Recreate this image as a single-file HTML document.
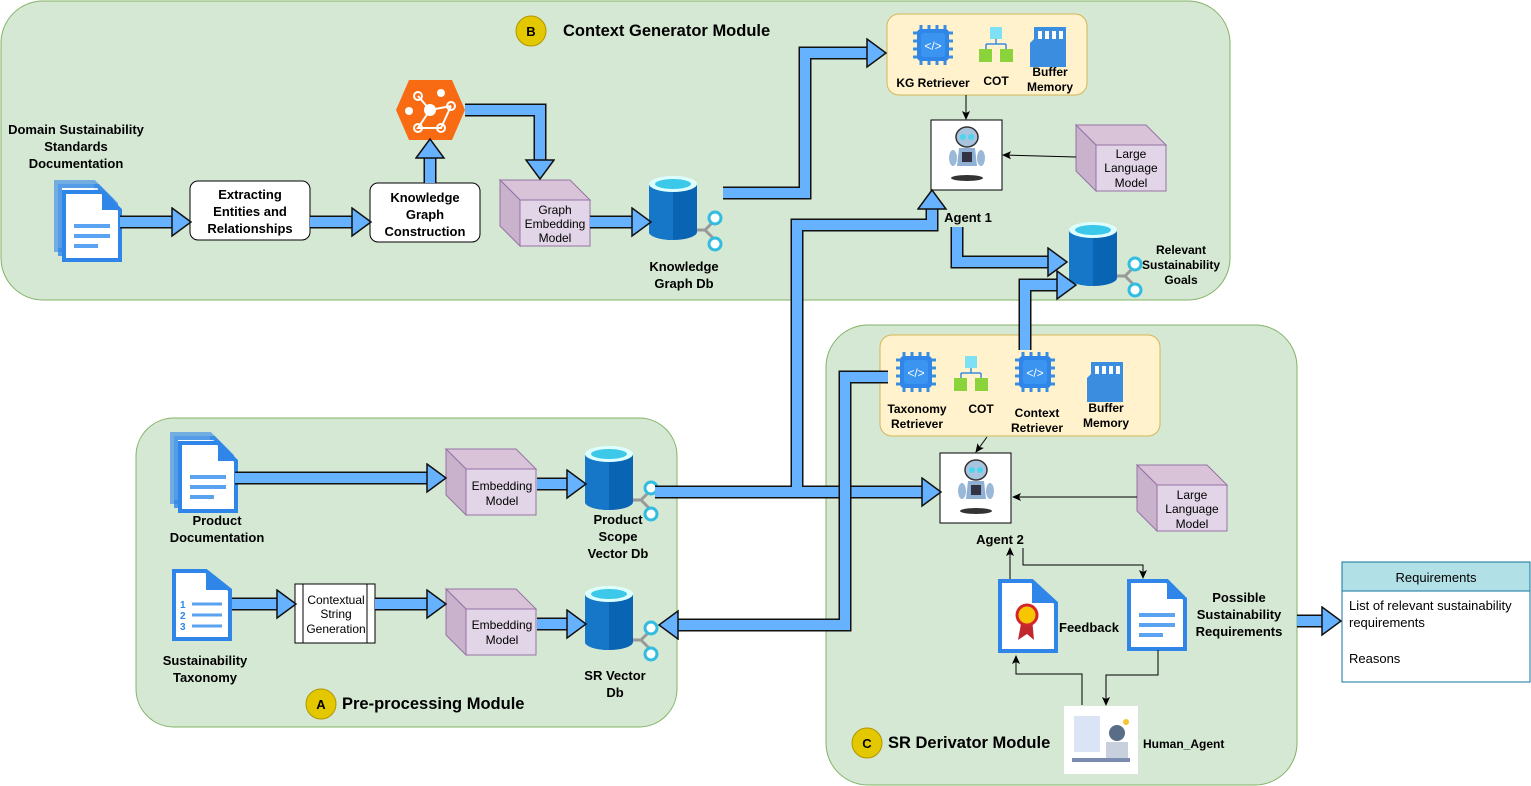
<!DOCTYPE html>
<html><head><meta charset="utf-8"><style>
body{margin:0;background:#fff}
svg{display:block;font-family:"Liberation Sans",Arial,sans-serif}
.o{fill:none;stroke:#111;stroke-width:13;stroke-linejoin:miter}
.i{fill:none;stroke:#66b2ff;stroke-width:10;stroke-linejoin:miter}
.t{fill:none;stroke:#000;stroke-width:1}
.b{font-weight:bold;font-size:13px}
</style></head><body>
<svg width="1531" height="786" viewBox="0 0 1531 786" xmlns="http://www.w3.org/2000/svg">
<defs>
<marker id="ah" markerUnits="userSpaceOnUse" markerWidth="24" markerHeight="32" refX="1" refY="15" orient="auto">
<path d="M1,1 L20,15 L1,29 Z" fill="#66b2ff" stroke="#111" stroke-width="1.5"/></marker>
<marker id="th" markerUnits="userSpaceOnUse" markerWidth="10" markerHeight="10" refX="8" refY="5" orient="auto">
<path d="M0,1 L9,5 L0,9 L2,5 Z" fill="#000"/></marker>
<symbol id="cube" overflow="visible">
<polygon points="0,0 70,0 90,20 20,20" fill="#d8c3d8" stroke="#9673a6"/>
<polygon points="0,0 20,20 20,66 0,46" fill="#c9b2cb" stroke="#9673a6"/>
<rect x="20" y="20" width="70" height="46" fill="#e1d5e7" stroke="#9673a6"/>
</symbol>
<symbol id="db" overflow="visible">
<path d="M32,22 L42,12 M32,22 L42,32 M32,22 L22,22" stroke="#999" stroke-width="3" fill="none"/>
<path d="M-24,-24 V24 A24,8 0 0 0 24,24 V-24 Z" fill="#0a64b4"/>
<path d="M-24,-24 V24 A24,8 0 0 0 0,32 V-16 Z" fill="#1677c9"/>
<ellipse cx="0" cy="-24" rx="24" ry="8" fill="#dff"/>
<ellipse cx="0" cy="-24" rx="18" ry="5" fill="#3cc8e8"/>
<circle cx="42" cy="10" r="6" fill="#fff" stroke="#32bde0" stroke-width="3"/>
<circle cx="42" cy="36" r="6" fill="#fff" stroke="#32bde0" stroke-width="3"/>
</symbol>
<symbol id="doc" overflow="visible">
<path d="M0,0 H38 L56,18 V68 H0 Z" fill="#fff" stroke="#2f86e8" stroke-width="4"/>
<path d="M38,0 V18 H56 Z" fill="#2f86e8"/>
<path d="M10,34 H46 M10,44 H46 M10,54 H34" stroke="#5aa3f0" stroke-width="4"/>
</symbol>
<symbol id="chip" overflow="visible">
<g stroke="#3b8de0" stroke-width="3">
<path d="M-20,-12 H20 M-20,-4 H20 M-20,4 H20 M-20,12 H20 M-12,-20 V20 M-4,-20 V20 M4,-20 V20 M12,-20 V20"/></g>
<rect x="-16" y="-16" width="32" height="32" rx="4" fill="#2f86e8"/>
<rect x="-12" y="-12" width="24" height="24" rx="3" fill="#3b95f0"/>
<text x="0" y="5" text-anchor="middle" fill="#fff" font-size="12">&lt;/&gt;</text>
</symbol>
<symbol id="cot" overflow="visible">
<rect x="-6" y="-18" width="12" height="12" fill="#7de0f5"/>
<path d="M0,-6 V-1 M-10,-1 H10 M-10,-1 V4 M10,-1 V4" stroke="#3b8de0" stroke-width="1.5" fill="none"/>
<rect x="-17" y="4" width="13" height="13" fill="#8bd33a"/>
<rect x="4" y="4" width="13" height="13" fill="#8bd33a"/>
</symbol>
<symbol id="mem" overflow="visible">
<path d="M-14,-18 H18 V22 H-18 V-2 L-14,-6 Z" fill="#3b8de0"/>
<rect x="-10" y="-14" width="4" height="8" fill="#fff"/><rect x="-3" y="-14" width="4" height="8" fill="#fff"/>
<rect x="4" y="-14" width="4" height="8" fill="#fff"/><rect x="11" y="-14" width="4" height="8" fill="#fff"/>
</symbol>
<symbol id="robot" overflow="visible">
<rect x="0" y="0" width="71" height="70" fill="#fff" stroke="#000"/>
<ellipse cx="36" cy="58" rx="16" ry="3" fill="#333"/>
<ellipse cx="36" cy="17" rx="11" ry="10" fill="#a9c4df" stroke="#333" stroke-width="1.5"/>
<circle cx="32" cy="17" r="3" fill="#4fd4ef"/><circle cx="40" cy="17" r="3" fill="#4fd4ef"/>
<path d="M28,28 H44 L46,46 H26 Z" fill="#8fb0d3"/>
<rect x="31" y="32" width="10" height="10" fill="#334"/>
<ellipse cx="22" cy="38" rx="4" ry="8" fill="#9ab8d8"/><ellipse cx="50" cy="38" rx="4" ry="8" fill="#9ab8d8"/>
</symbol>
</defs>

<!-- modules -->
<rect x="1" y="1" width="1229" height="299" rx="42" fill="#d5e8d4" stroke="#82b366"/>
<rect x="136" y="418" width="541" height="309" rx="38" fill="#d5e8d4" stroke="#82b366"/>
<rect x="826" y="325" width="471" height="460" rx="42" fill="#d5e8d4" stroke="#82b366"/>

<circle cx="531" cy="31" r="15" fill="#e3c800" stroke="#b09500"/><text x="531" y="36" text-anchor="middle" class="b">B</text>
<text x="563" y="36" font-size="16.5" font-weight="bold">Context Generator Module</text>
<circle cx="321" cy="704" r="15" fill="#e3c800" stroke="#b09500"/><text x="321" y="709" text-anchor="middle" class="b">A</text>
<text x="342" y="709" font-size="16.5" font-weight="bold">Pre-processing Module</text>
<circle cx="867" cy="743" r="15" fill="#e3c800" stroke="#b09500"/><text x="867" y="748" text-anchor="middle" class="b">C</text>
<text x="888" y="748" font-size="16.5" font-weight="bold">SR Derivator Module</text>

<!-- Module B contents -->
<text class="b" text-anchor="middle"><tspan x="76" y="134">Domain Sustainability</tspan><tspan x="76" y="151">Standards</tspan><tspan x="76" y="168">Documentation</tspan></text>
<use href="#doc" x="56" y="182" opacity="0.6"/>
<use href="#doc" x="60" y="186" opacity="0.8"/>
<use href="#doc" x="64" y="192"/>
<rect x="190" y="181" width="120" height="59" rx="8" fill="#fff" stroke="#000"/>
<text class="b" text-anchor="middle"><tspan x="250" y="199">Extracting</tspan><tspan x="250" y="216">Entities and</tspan><tspan x="250" y="233">Relationships</tspan></text>
<rect x="370" y="183" width="110" height="59" rx="8" fill="#fff" stroke="#000"/>
<text class="b" text-anchor="middle"><tspan x="425" y="202">Knowledge</tspan><tspan x="425" y="219">Graph</tspan><tspan x="425" y="236">Construction</tspan></text>
<polygon points="409,80 452,80 465,110 452,140 409,140 396,110" fill="#f96b12"/>
<g stroke="#fff" stroke-width="2" fill="none"><path d="M430,110 L418,96 M430,110 L451,106 M430,110 L418,128 L441,128 L451,106"/></g>
<circle cx="430" cy="110" r="6" fill="#fff"/><circle cx="418" cy="96" r="4" fill="none" stroke="#fff" stroke-width="2"/><circle cx="441" cy="93" r="4" fill="#fff"/><circle cx="409" cy="111" r="4" fill="#fff"/><circle cx="451" cy="106" r="4" fill="none" stroke="#fff" stroke-width="2"/><circle cx="418" cy="128" r="4" fill="none" stroke="#fff" stroke-width="2"/><circle cx="441" cy="128" r="4" fill="none" stroke="#fff" stroke-width="2"/>
<use href="#cube" x="500" y="180"/>
<text font-size="12" text-anchor="middle"><tspan x="555" y="214">Graph</tspan><tspan x="555" y="228">Embedding</tspan><tspan x="555" y="242">Model</tspan></text>
<use href="#db" x="673" y="208"/>
<text class="b" text-anchor="middle"><tspan x="684" y="271">Knowledge</tspan><tspan x="684" y="288">Graph Db</tspan></text>

<rect x="887" y="14" width="200" height="81" rx="12" fill="#fff2cc" stroke="#d6b656"/>
<use href="#chip" x="933" y="45"/><use href="#cot" x="996" y="45"/><use href="#mem" x="1048" y="45"/>
<text x="933" y="87" text-anchor="middle" font-size="12" font-weight="bold">KG Retriever</text>
<text x="996" y="85" text-anchor="middle" font-size="12" font-weight="bold">COT</text>
<text font-size="12" font-weight="bold" text-anchor="middle"><tspan x="1050" y="76">Buffer</tspan><tspan x="1050" y="91">Memory</tspan></text>
<use href="#robot" x="931" y="120"/>
<text x="968" y="222" text-anchor="middle" class="b">Agent 1</text>
<use href="#cube" x="1076" y="125"/>
<text font-size="12" text-anchor="middle"><tspan x="1131" y="158">Large</tspan><tspan x="1131" y="172">Language</tspan><tspan x="1131" y="187">Model</tspan></text>
<use href="#db" x="1093" y="254"/>
<text font-size="12" font-weight="bold" text-anchor="middle"><tspan x="1181" y="254">Relevant</tspan><tspan x="1181" y="269">Sustainability</tspan><tspan x="1181" y="284">Goals</tspan></text>

<!-- Module A -->
<use href="#doc" x="172" y="434" opacity="0.6"/><use href="#doc" x="176" y="438" opacity="0.8"/><use href="#doc" x="180" y="443"/>
<text class="b" text-anchor="middle"><tspan x="217" y="525">Product</tspan><tspan x="217" y="542">Documentation</tspan></text>
<path d="M174,571 H206 L230,590 V639 H174 Z" fill="#fff" stroke="#2f86e8" stroke-width="4"/>
<path d="M206,571 V590 H230 Z" fill="#2f86e8"/>
<text font-size="10" font-weight="bold" fill="#2f86e8"><tspan x="180" y="608">1</tspan><tspan x="180" y="619">2</tspan><tspan x="180" y="630">3</tspan></text>
<path d="M192,604 H222 M192,615 H222 M192,626 H222" stroke="#5aa3f0" stroke-width="3"/>
<text class="b" text-anchor="middle"><tspan x="205" y="665">Sustainability</tspan><tspan x="205" y="682">Taxonomy</tspan></text>
<rect x="295" y="584" width="80" height="59" fill="#fff" stroke="#000"/>
<path d="M303,584 V643 M367,584 V643" stroke="#000"/>
<text font-size="12" text-anchor="middle"><tspan x="336" y="604">Contextual</tspan><tspan x="336" y="618">String</tspan><tspan x="336" y="633">Generation</tspan></text>
<use href="#cube" x="446" y="449"/>
<text font-size="12" text-anchor="middle"><tspan x="502" y="490">Embedding</tspan><tspan x="502" y="505">Model</tspan></text>
<use href="#cube" x="446" y="589"/>
<text font-size="12" text-anchor="middle"><tspan x="502" y="629">Embedding</tspan><tspan x="502" y="644">Model</tspan></text>
<use href="#db" x="609" y="478"/>
<text class="b" text-anchor="middle"><tspan x="618" y="524">Product</tspan><tspan x="618" y="541">Scope</tspan><tspan x="618" y="558">Vector Db</tspan></text>
<use href="#db" x="609" y="618"/>
<text class="b" text-anchor="middle"><tspan x="615" y="680">SR Vector</tspan><tspan x="615" y="697">Db</tspan></text>

<!-- Module C -->
<rect x="880" y="335" width="280" height="101" rx="12" fill="#fff2cc" stroke="#d6b656"/>
<use href="#chip" x="916" y="372"/><use href="#cot" x="971" y="374"/><use href="#chip" x="1035" y="372"/><use href="#mem" x="1105" y="380"/>
<text font-size="12" font-weight="bold" text-anchor="middle"><tspan x="917" y="413">Taxonomy</tspan><tspan x="917" y="428">Retriever</tspan></text>
<text x="981" y="413" text-anchor="middle" font-size="12" font-weight="bold">COT</text>
<text font-size="12" font-weight="bold" text-anchor="middle"><tspan x="1037" y="417">Context</tspan><tspan x="1037" y="432">Retriever</tspan></text>
<text font-size="12" font-weight="bold" text-anchor="middle"><tspan x="1106" y="412">Buffer</tspan><tspan x="1106" y="427">Memory</tspan></text>
<use href="#robot" x="940" y="453"/>
<text x="1000" y="544" text-anchor="middle" class="b">Agent 2</text>
<use href="#cube" x="1137" y="465"/>
<text font-size="12" text-anchor="middle"><tspan x="1192" y="499">Large</tspan><tspan x="1192" y="513">Language</tspan><tspan x="1192" y="528">Model</tspan></text>
<path d="M1000,581 H1032 L1056,603 V651 H1000 Z" fill="#fff" stroke="#2f86e8" stroke-width="4"/>
<path d="M1032,581 V603 H1056 Z" fill="#2f86e8"/>
<path d="M1022,618 L1018,640 L1027,634 L1034,640 L1032,618 Z" fill="#c0282d"/>
<circle cx="1027" cy="615" r="10" fill="#f7c600" stroke="#d3262c" stroke-width="3"/>
<text x="1089" y="632" text-anchor="middle" class="b">Feedback</text>
<use href="#doc" x="1129" y="581"/>
<text class="b" text-anchor="middle"><tspan x="1239" y="602">Possible</tspan><tspan x="1239" y="619">Sustainability</tspan><tspan x="1239" y="636">Requirements</tspan></text>
<rect x="1064" y="706" width="74" height="68" fill="#fff"/>
<rect x="1074" y="716" width="26" height="36" fill="#dbe4f4"/>
<circle cx="1117" cy="733" r="8" fill="#5a6d86"/><rect x="1106" y="742" width="22" height="16" fill="#c7d0dc"/>
<rect x="1072" y="758" width="58" height="4" fill="#7a8bb0"/><circle cx="1126" cy="722" r="3" fill="#f4c430"/>
<text x="1143" y="748" font-size="12" font-weight="bold">Human_Agent</text>

<!-- Requirements table -->
<rect x="1342" y="562" width="188" height="120" fill="#fff" stroke="#10739e"/>
<rect x="1342" y="562" width="188" height="29" fill="#b1e0e6" stroke="#10739e"/>
<text x="1436" y="582" text-anchor="middle" font-size="13">Requirements</text>
<text font-size="13"><tspan x="1349" y="610">List of relevant sustainability</tspan><tspan x="1349" y="627">requirements</tspan><tspan x="1349" y="663">Reasons</tspan></text>

<!-- big arrows -->
<g>
<path class="o" d="M120,222 H172"/><path class="i" d="M120,222 H172" marker-end="url(#ah)"/>
<path class="o" d="M310,222 H352"/><path class="i" d="M310,222 H352" marker-end="url(#ah)"/>
<path class="o" d="M430,183 V158"/><path class="i" d="M430,183 V158" marker-end="url(#ah)"/>
<path class="o" d="M465,110 H540 V160"/><path class="i" d="M465,110 H540 V160" marker-end="url(#ah)"/>
<path class="o" d="M590,222 H632"/><path class="i" d="M590,222 H632" marker-end="url(#ah)"/>
<path class="o" d="M723,193 H805 V53 H867"/><path class="i" d="M723,193 H805 V53 H867" marker-end="url(#ah)"/>
<path class="o" d="M797,492 V225 H932 V209"/>
<path class="o" d="M655,492 H922"/>
<path class="i" d="M797,492 V225 H932 V209" marker-end="url(#ah)"/>
<path class="i" d="M655,492 H922" marker-end="url(#ah)"/>
<path class="o" d="M957,227 V262 H1048"/><path class="i" d="M957,227 V262 H1048" marker-end="url(#ah)"/>
<path class="o" d="M1025,350 V285 H1057"/><path class="i" d="M1025,350 V285 H1057" marker-end="url(#ah)"/>
<path class="o" d="M888,377 H845 V625 H678"/><path class="i" d="M888,377 H845 V625 H678" marker-end="url(#ah)"/>
<path class="o" d="M235,478 H427"/><path class="i" d="M235,478 H427" marker-end="url(#ah)"/>
<path class="o" d="M232,604 H277"/><path class="i" d="M232,604 H277" marker-end="url(#ah)"/>
<path class="o" d="M375,604 H427"/><path class="i" d="M375,604 H427" marker-end="url(#ah)"/>
<path class="o" d="M537,484 H567"/><path class="i" d="M537,484 H567" marker-end="url(#ah)"/>
<path class="o" d="M537,624 H567"/><path class="i" d="M537,624 H567" marker-end="url(#ah)"/>
<path class="o" d="M1297,621 H1322"/><path class="i" d="M1297,621 H1322" marker-end="url(#ah)"/>
</g>

<!-- thin arrows -->
<path class="t" d="M966,95 V119" marker-end="url(#th)"/>
<path class="t" d="M1076,157 L1003,155" marker-end="url(#th)"/>
<path class="t" d="M987,437 L976,452" marker-end="url(#th)"/>
<path class="t" d="M1137,497 L1013,497" marker-end="url(#th)"/>
<path class="t" d="M1010,579 V548" marker-end="url(#th)"/>
<path class="t" d="M1023,548 V565 H1143 V578" marker-end="url(#th)"/>
<path class="t" d="M1082,705 V674 H1016 V656" marker-end="url(#th)"/>
<path class="t" d="M1158,650 V675 H1106 V705" marker-end="url(#th)"/>
</svg>
</body></html>
